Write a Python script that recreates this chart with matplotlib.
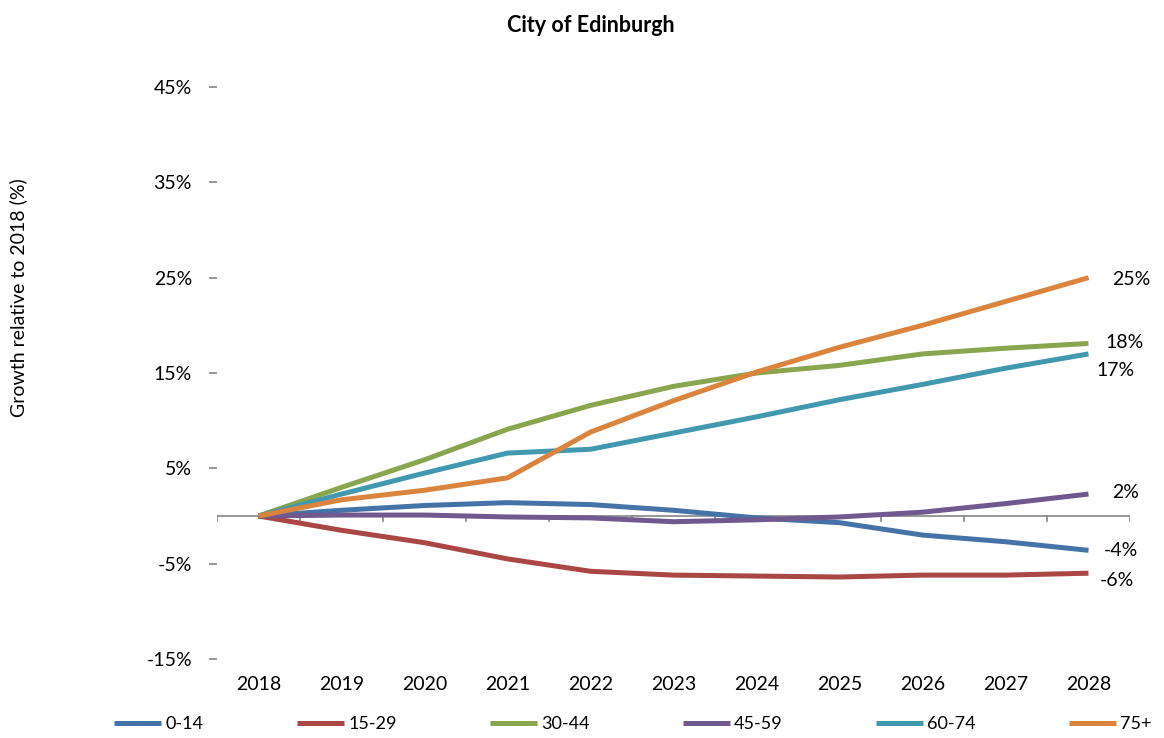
import matplotlib
matplotlib.use("Agg")
import matplotlib.pyplot as plt
import numpy as np

years = [2018, 2019, 2020, 2021, 2022, 2023, 2024, 2025, 2026, 2027, 2028]
age_groups = ["0-14", "15-29", "30-44", "45-59", "60-74", "75+"]

g_0_14 = [0.0, 0.6, 1.1, 1.4, 1.2, 0.6, -0.2, -0.7, -2.0, -2.7, -3.6]
g_15_29 = [0.0, -1.5, -2.8, -4.5, -5.8, -6.2, -6.3, -6.4, -6.2, -6.2, -6.0]
g_30_44 = [0.0, 3.0, 5.9, 9.1, 11.6, 13.6, 15.0, 15.8, 17.0, 17.6, 18.1]
g_45_59 = [0.0, 0.1, 0.1, -0.1, -0.2, -0.6, -0.4, -0.1, 0.4, 1.3, 2.3]
g_60_74 = [0.0, 2.3, 4.5, 6.6, 7.0, 8.7, 10.4, 12.2, 13.8, 15.5, 17.0]
g_75_plus = [0.0, 1.7, 2.7, 4.0, 8.8, 12.1, 15.1, 17.7, 20.0, 22.5, 25.0]

series = [g_0_14, g_15_29, g_30_44, g_45_59, g_60_74, g_75_plus]
colors = ["#4572A7", "#AA4643", "#89A54E", "#71588F", "#4198AF", "#DB843D"]
# end-label offsets in points (dx, dy)
label_offsets = [(11, 0), (8, -5), (12, 1), (17, 1), (6, -12), (17, -1)]

yticks = [-15, -5, 5, 15, 25, 35, 45]

plt.rcParams['font.family'] = ['Lato', 'DejaVu Sans']

fig = plt.figure(figsize=(11.64, 7.38), dpi=100)
ax = fig.add_axes([217/1164, 1-659/738, (1130-217)/1164, (659-87)/738])

x = np.arange(len(years))
handles = []
for vals, col, name in zip(series, colors, age_groups):
    h, = ax.plot(x, vals, color=col, lw=3.6, solid_capstyle='butt', zorder=3, label=name)
    handles.append(h)

for vals, off in zip(series, label_offsets):
    ax.annotate(f"{round(vals[-1]):d}%", xy=(x[-1], vals[-1]), xytext=off,
                textcoords='offset points', ha='left', va='center', fontsize=14)

ax.set_xlim(-0.5, len(years) - 0.5)
ax.set_ylim(-15, 45)

# zero axis line with category boundary ticks
ax.axhline(0, color='#868686', lw=1.2, zorder=2)
for b in np.arange(-0.5, len(years), 1.0):
    ax.plot([b, b], [0, -0.55], color='#868686', lw=1.2, zorder=2)

for s in ax.spines.values():
    s.set_visible(False)

ax.set_yticks(yticks)
ax.set_yticklabels([f"{t}%" for t in yticks], fontsize=14)
ax.tick_params(axis='y', length=6, width=1.2, color='#868686', pad=12)
ax.set_xticks(x)
ax.set_xticklabels([str(y) for y in years], fontsize=14)
ax.tick_params(axis='x', length=0, pad=12)

fig.text(591/1164, 1-25/738, "City of Edinburgh", ha='center', va='center',
         fontsize=15.5, fontweight='bold')
fig.text(18/1164, 1-298/738, "Growth relative to 2018 (%)", ha='center', va='center',
         rotation=90, fontsize=14)

fig.legend(handles=handles, loc='center', bbox_to_anchor=(633/1164, 1-724/738),
           ncol=6, frameon=False, fontsize=13, handlelength=2.6, handletextpad=0.25,
           columnspacing=5.15)

fig.savefig("out.png", dpi=100)
